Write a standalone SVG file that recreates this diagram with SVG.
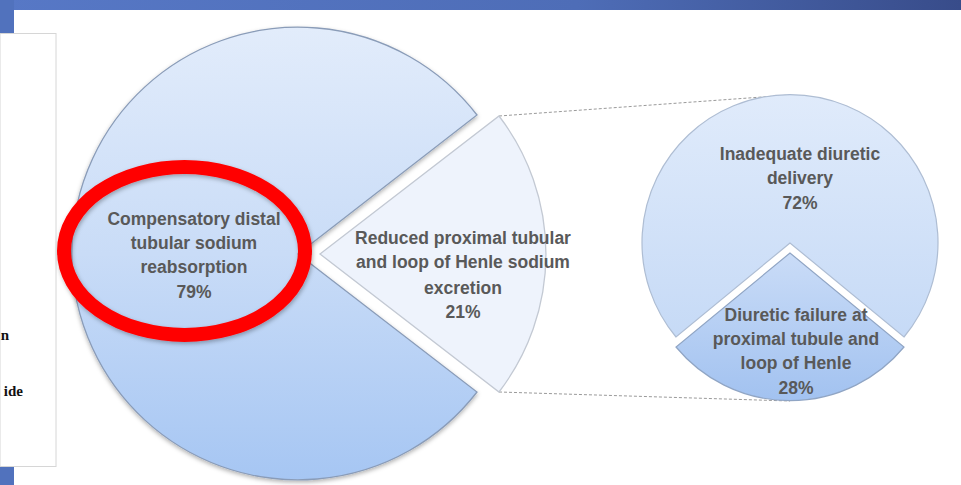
<svg xmlns="http://www.w3.org/2000/svg" width="961" height="485" viewBox="0 0 961 485">
<defs>
<linearGradient id="bar" x1="0" y1="0" x2="1" y2="0"><stop offset="0" stop-color="#5778c6"/><stop offset="0.6" stop-color="#4e6db7"/><stop offset="1" stop-color="#384c8a"/></linearGradient>
<linearGradient id="bigG" x1="0" y1="0" x2="0" y2="1"><stop offset="0" stop-color="#e2ecfb"/><stop offset="0.5" stop-color="#c9dcf7"/><stop offset="1" stop-color="#a6c6f3"/></linearGradient>
<linearGradient id="p72" x1="0" y1="0" x2="0" y2="1"><stop offset="0" stop-color="#e0ebfb"/><stop offset="1" stop-color="#c6daf6"/></linearGradient>
<linearGradient id="p28" x1="0" y1="0" x2="0" y2="1"><stop offset="0" stop-color="#cadcf7"/><stop offset="1" stop-color="#a2c2f0"/></linearGradient>
<filter id="sh" x="-10%" y="-10%" width="120%" height="120%"><feDropShadow dx="0" dy="2" stdDeviation="2" flood-color="#000" flood-opacity="0.3"/></filter>
<filter id="shr" x="-10%" y="-10%" width="120%" height="130%"><feDropShadow dx="1" dy="2" stdDeviation="2" flood-color="#000" flood-opacity="0.3"/></filter>
</defs>
<style>
.lbl{font-family:"Liberation Sans",Arial,sans-serif;font-weight:bold;font-size:17.5px;fill:#595959;text-anchor:middle}
.side{font-family:"Liberation Serif","Times New Roman",serif;font-weight:bold;font-size:15px;fill:#111;text-anchor:end}
.dash{stroke:#9a9a9a;stroke-width:1;stroke-dasharray:3 2;fill:none}
</style>
<rect x="0" y="0" width="961" height="485" fill="#ffffff"/>
<rect x="0" y="0" width="961" height="10" fill="url(#bar)"/>
<rect x="0" y="0" width="14" height="485" fill="#5172bd"/>
<g id="panel">
<rect x="0" y="33.5" width="56" height="433" fill="#ffffff" stroke="#d6d6d6" stroke-width="1"/>
<text class="side" x="9" y="340">n</text>
<text class="side" x="23" y="396">ide</text>
</g>
<g id="connectors">
<line class="dash" x1="499" y1="116" x2="790" y2="95"/>
<line class="dash" x1="499" y1="392" x2="790" y2="401"/>
</g>
<g id="slice79">
<path d="M298 254 L477 115 A226.3 226.3 0 1 0 477 392 Z" fill="url(#bigG)" stroke="#8a9cb8" stroke-width="1.3" filter="url(#sh)"/>
<text class="lbl" x="194" y="225">Compensatory distal</text>
<text class="lbl" x="194" y="249">tubular sodium</text>
<text class="lbl" x="194" y="273">reabsorption</text>
<text class="lbl" x="194" y="298">79%</text>
</g>
<g id="slice21">
<path d="M320 254 L499 116 A226.3 226.3 0 0 1 499 392 Z" fill="#eef3fc" stroke="#c3c9d3" stroke-width="1.3"/>
<text class="lbl" x="463" y="244">Reduced proximal tubular</text>
<text class="lbl" x="463" y="268">and loop of Henle sodium</text>
<text class="lbl" x="463" y="294">excretion</text>
<text class="lbl" x="463" y="318">21%</text>
</g>
<g id="slice72">
<path d="M790 243 L676 337 A148 148 0 1 1 904 337 Z" fill="url(#p72)" stroke="#aebdd3" stroke-width="1.2"/>
<text class="lbl" x="800" y="160">Inadequate diuretic</text>
<text class="lbl" x="800" y="184">delivery</text>
<text class="lbl" x="800" y="209">72%</text>
</g>
<g id="slice28">
<path d="M790 253 L676 347 A148 148 0 0 0 904 347 Z" fill="url(#p28)" stroke="#90a5c4" stroke-width="1.2"/>
<text class="lbl" x="796" y="321">Diuretic failure at</text>
<text class="lbl" x="796" y="345">proximal tubule and</text>
<text class="lbl" x="796" y="369">loop of Henle</text>
<text class="lbl" x="796" y="394">28%</text>
</g>
<g id="highlight">
<ellipse cx="184.5" cy="251" rx="120.5" ry="84" fill="none" stroke="#ff0000" stroke-width="14" filter="url(#shr)"/>
</g>
</svg>
